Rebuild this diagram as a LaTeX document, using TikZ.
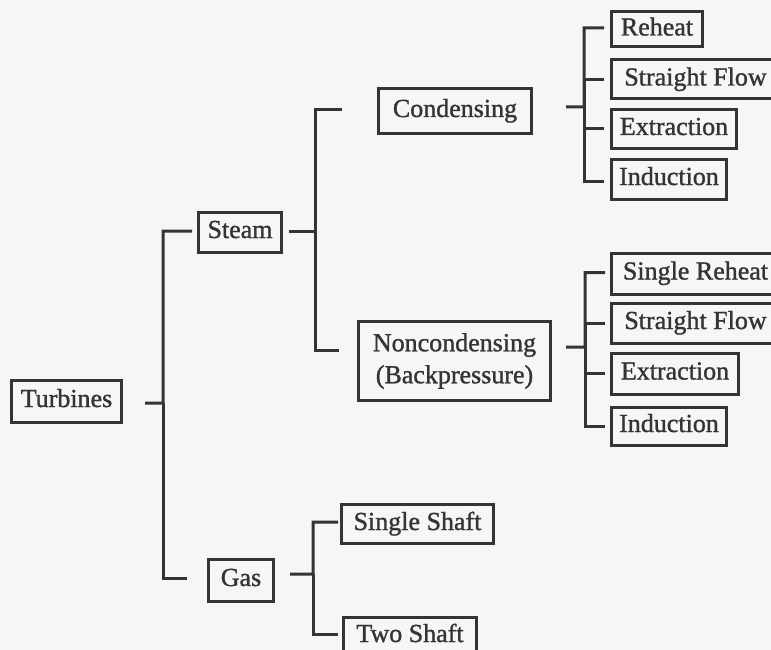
\documentclass[tikz,border=0pt]{standalone}
\usepackage{fontspec}
\setmainfont{Liberation Serif}
\newfontfamily\boxfont{Liberation Serif}[FakeBold=1.2]
\definecolor{ink}{RGB}{52,52,52}
\definecolor{paper}{RGB}{246,246,246}
\begin{document}
\begin{tikzpicture}[x=1bp,y=-1bp,
  box/.style={draw=ink, line width=3bp, text=ink,
    font=\boxfont\fontsize{26bp}{32bp}\selectfont, anchor=west,
    inner xsep=0pt, inner ysep=0pt, align=center},
  one/.style={text height=18bp, text depth=6bp},
  conn/.style={draw=ink, line width=3bp}]
\clip (0,0) rectangle (771,650);
\fill[paper] (0,0) rectangle (771,650);

% level 0
\node[box,one,minimum width=110bp,minimum height=42bp] (turb) at (10,401) {Turbines};
% level 1
\node[box,one,minimum width=83bp,minimum height=40bp] (steam) at (197,232) {Steam};
\node[box,one,minimum width=65bp,minimum height=42bp] (gas) at (207,580) {Gas};
% level 2
\node[box,one,minimum width=153bp,minimum height=44bp] (cond) at (377,111) {Condensing};
\node[box,minimum width=192bp,minimum height=79bp] (nonc) at (357,361) {Noncondensing\\(Backpressure)};
\node[box,one,minimum width=152bp,minimum height=39bp] (ss) at (340,524) {Single Shaft};
\node[box,one,minimum width=133bp,minimum height=38bp] (ts) at (342,636) {Two Shaft};
% level 3 (condensing)
\node[box,one,minimum width=91bp,minimum height=35bp] (c1) at (610,29.5) {Reheat};
\node[box,one,minimum width=168bp,minimum height=39bp] (c2) at (610,79.5) {Straight Flow};
\node[box,one,minimum width=125bp,minimum height=38bp] (c3) at (610,129) {Extraction};
\node[box,one,minimum width=115bp,minimum height=40bp] (c4) at (610,179) {Induction};
% level 3 (noncondensing)
\node[box,one,minimum width=168bp,minimum height=41bp] (n1) at (610,273.5) {Single Reheat};
\node[box,one,minimum width=168bp,minimum height=40bp] (n2) at (610,323) {Straight Flow};
\node[box,one,minimum width=127bp,minimum height=41bp] (n3) at (610,373.5) {Extraction};
\node[box,one,minimum width=115bp,minimum height=38bp] (n4) at (610,426) {Induction};

% spines
\coordinate (sp0) at (163,403);
\coordinate (sp1) at (315,231);
\coordinate (sp2) at (584,107);
\coordinate (sp3) at (585,347);
\coordinate (sp4) at (313,574);

% Turbines
\draw[conn] ([xshift=22bp,yshift=-2bp]turb.east) -- (sp0) |- ([xshift=-5bp,yshift=1bp]steam.west);
\draw[conn] (sp0) |- ([xshift=-20bp,yshift=2bp]gas.west);
% Steam
\draw[conn] ([xshift=6bp,yshift=1bp]steam.east) -- (sp1) |- ([xshift=-35bp,yshift=1bp]cond.west);
\draw[conn] (sp1) |- ([xshift=-18bp,yshift=11bp]nonc.west);
% Gas
\draw[conn] ([xshift=15bp,yshift=6bp]gas.east) -- (sp4) |- ([xshift=-2bp,yshift=2bp]ss.west);
\draw[conn] (sp4) |- ([xshift=-4bp,yshift=2bp]ts.west);
% Condensing
\draw[conn] ([xshift=33bp,yshift=4bp]cond.east) -- (sp2) |- ([xshift=-6bp,yshift=1.5bp]c1.west);
\draw[conn] (sp2) |- ([xshift=-6bp]c2.west);
\draw[conn] (sp2) |- ([xshift=-6bp]c3.west);
\draw[conn] (sp2) |- ([xshift=-6bp,yshift=-2bp]c4.west);
% Noncondensing
\draw[conn] ([xshift=14bp,yshift=14bp]nonc.east) -- (sp3) |- ([xshift=-5bp,yshift=1bp]n1.west);
\draw[conn] (sp3) |- ([xshift=-5bp]n2.west);
\draw[conn] (sp3) |- ([xshift=-5bp]n3.west);
\draw[conn] (sp3) |- ([xshift=-5bp]n4.west);
\end{tikzpicture}
\end{document}
